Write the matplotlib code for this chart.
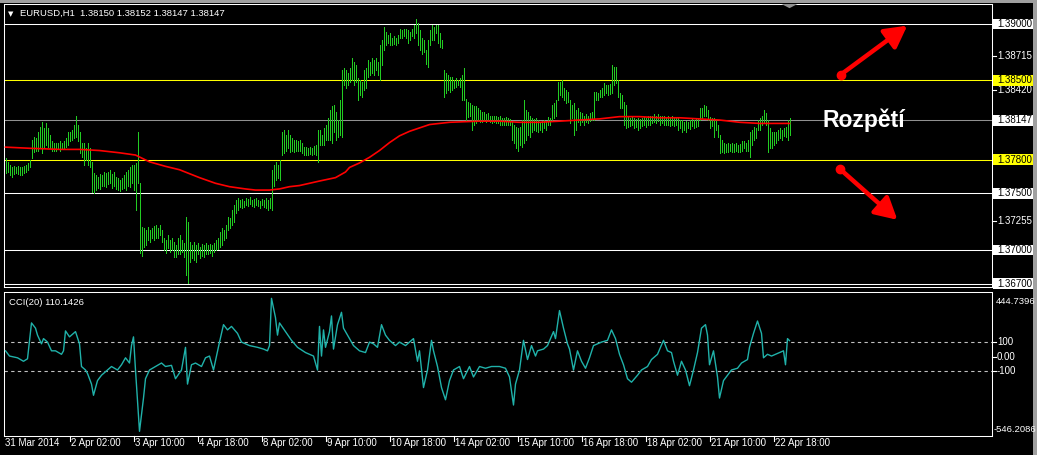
import numpy as np
import matplotlib
matplotlib.use("Agg")
import matplotlib.pyplot as plt
from matplotlib import transforms
from matplotlib.patches import Rectangle, FancyArrowPatch, Polygon

plt.rcParams['font.family'] = ['Liberation Sans', 'DejaVu Sans']

# ---------------- data ----------------
bar_high = [
1.3781,1.3778,1.3775,1.3773,1.3774,1.3773,1.3774,1.3773,1.3773,1.3774,1.3775,1.3777,1.3780,1.3797,1.3800,1.3799,1.3804,1.3809,1.3813,1.3808,
1.3812,1.3808,1.3802,1.3796,1.3795,1.3795,1.3795,1.3796,1.3795,1.3796,1.3799,1.3804,1.3804,1.3806,1.3811,1.3819,1.3811,1.3804,1.3795,1.3795,
1.3790,1.3795,1.3790,1.3778,1.3768,1.3766,1.3765,1.3767,1.3766,1.3769,1.3768,1.3769,1.3771,1.3767,1.3769,1.3765,1.3764,1.3762,1.3764,1.3766,
1.3769,1.3771,1.3773,1.3775,1.3775,1.3777,1.3804,1.3759,1.3720,1.3719,1.3718,1.3720,1.3718,1.3719,1.3721,1.3722,1.3719,1.3722,1.3718,1.3711,
1.3709,1.3713,1.3709,1.3711,1.3707,1.3704,1.3711,1.3713,1.3709,1.3706,1.3729,1.3725,1.3707,1.3704,1.3707,1.3704,1.3706,1.3703,1.3705,1.3704,
1.3706,1.3704,1.3705,1.3704,1.3706,1.3709,1.3711,1.3716,1.3719,1.3718,1.3722,1.3729,1.3728,1.3735,1.3740,1.3744,1.3746,1.3744,1.3745,1.3743,
1.3746,1.3745,1.3747,1.3744,1.3745,1.3746,1.3744,1.3743,1.3745,1.3744,1.3746,1.3744,1.3746,1.3771,1.3775,1.3778,1.3775,1.3780,1.3804,1.3806,
1.3802,1.3806,1.3802,1.3799,1.3797,1.3797,1.3796,1.3797,1.3795,1.3791,1.3791,1.3790,1.3791,1.3790,1.3792,1.3793,1.3806,1.3806,1.3802,1.3808,
1.3811,1.3817,1.3824,1.3827,1.3828,1.3822,1.3815,1.3833,1.3859,1.3861,1.3859,1.3857,1.3861,1.3870,1.3866,1.3864,1.3852,1.3850,1.3849,1.3859,
1.3861,1.3868,1.3866,1.3870,1.3868,1.3870,1.3866,1.3881,1.3886,1.3897,1.3893,1.3890,1.3892,1.3888,1.3889,1.3888,1.3890,1.3896,1.3895,1.3896,
1.3896,1.3895,1.3893,1.3896,1.3899,1.3904,1.3901,1.3895,1.3888,1.3886,1.3877,1.3886,1.3895,1.3899,1.3897,1.3899,1.3899,1.3892,1.3886,1.3859,
1.3857,1.3855,1.3853,1.3853,1.3850,1.3852,1.3850,1.3852,1.3855,1.3861,1.3834,1.3831,1.3830,1.3828,1.3827,1.3827,1.3826,1.3824,1.3822,1.3822,
1.3820,1.3821,1.3819,1.3819,1.3819,1.3819,1.3818,1.3819,1.3817,1.3817,1.3818,1.3817,1.3816,1.3813,1.3811,1.3809,1.3808,1.3809,1.3815,1.3833,
1.3824,1.3822,1.3819,1.3817,1.3816,1.3817,1.3815,1.3813,1.3814,1.3815,1.3813,1.3818,1.3817,1.3828,1.3830,1.3833,1.3849,1.3849,1.3850,1.3843,
1.3842,1.3840,1.3833,1.3828,1.3830,1.3824,1.3826,1.3822,1.3821,1.3819,1.3820,1.3819,1.3821,1.3822,1.3840,1.3840,1.3839,1.3842,1.3843,1.3848,
1.3846,1.3846,1.3847,1.3864,1.3862,1.3862,1.3850,1.3839,1.3837,1.3831,1.3828,1.3818,1.3817,1.3818,1.3817,1.3816,1.3817,1.3816,1.3817,1.3818,
1.3817,1.3819,1.3819,1.3819,1.3820,1.3819,1.3820,1.3819,1.3819,1.3819,1.3818,1.3819,1.3818,1.3819,1.3817,1.3818,1.3817,1.3815,1.3815,1.3813,
1.3814,1.3813,1.3815,1.3816,1.3815,1.3816,1.3817,1.3826,1.3826,1.3828,1.3827,1.3824,1.3818,1.3817,1.3817,1.3815,1.3811,1.3802,1.3797,1.3795,
1.3794,1.3795,1.3794,1.3795,1.3794,1.3795,1.3793,1.3794,1.3796,1.3796,1.3795,1.3797,1.3804,1.3806,1.3809,1.3808,1.3815,1.3817,1.3819,1.3824,
1.3821,1.3815,1.3808,1.3804,1.3804,1.3804,1.3806,1.3808,1.3806,1.3808,1.3809,1.3815,1.3817]

bar_low = [
1.3768,1.3769,1.3766,1.3765,1.3767,1.3768,1.3767,1.3766,1.3766,1.3768,1.3769,1.3771,1.3773,1.3781,1.3787,1.3788,1.3788,1.3790,1.3786,1.3790,
1.3793,1.3791,1.3790,1.3788,1.3788,1.3788,1.3789,1.3788,1.3790,1.3789,1.3791,1.3793,1.3796,1.3797,1.3799,1.3800,1.3796,1.3786,1.3782,1.3775,
1.3780,1.3775,1.3773,1.3751,1.3750,1.3753,1.3755,1.3754,1.3757,1.3757,1.3756,1.3758,1.3759,1.3755,1.3757,1.3754,1.3753,1.3752,1.3754,1.3755,
1.3753,1.3757,1.3756,1.3759,1.3753,1.3735,1.3759,1.3697,1.3695,1.3703,1.3704,1.3709,1.3707,1.3711,1.3709,1.3711,1.3711,1.3713,1.3707,1.3700,
1.3697,1.3702,1.3698,1.3700,1.3694,1.3694,1.3696,1.3696,1.3698,1.3694,1.3678,1.3671,1.3689,1.3693,1.3691,1.3689,1.3696,1.3693,1.3695,1.3694,
1.3696,1.3696,1.3697,1.3695,1.3698,1.3700,1.3701,1.3703,1.3704,1.3709,1.3711,1.3718,1.3719,1.3722,1.3725,1.3733,1.3735,1.3738,1.3737,1.3738,
1.3740,1.3739,1.3741,1.3739,1.3738,1.3740,1.3739,1.3737,1.3740,1.3738,1.3737,1.3735,1.3737,1.3735,1.3757,1.3762,1.3764,1.3762,1.3784,1.3786,
1.3788,1.3790,1.3787,1.3788,1.3787,1.3788,1.3788,1.3788,1.3786,1.3784,1.3784,1.3784,1.3785,1.3784,1.3785,1.3784,1.3778,1.3793,1.3793,1.3793,
1.3797,1.3797,1.3797,1.3795,1.3804,1.3797,1.3800,1.3802,1.3800,1.3846,1.3843,1.3846,1.3849,1.3850,1.3846,1.3849,1.3833,1.3837,1.3835,1.3842,
1.3843,1.3853,1.3855,1.3857,1.3855,1.3859,1.3855,1.3850,1.3864,1.3877,1.3881,1.3883,1.3881,1.3881,1.3882,1.3881,1.3883,1.3888,1.3888,1.3889,
1.3888,1.3883,1.3886,1.3889,1.3888,1.3892,1.3881,1.3877,1.3873,1.3875,1.3865,1.3862,1.3881,1.3886,1.3886,1.3892,1.3883,1.3880,1.3879,1.3835,
1.3839,1.3842,1.3840,1.3842,1.3843,1.3844,1.3846,1.3844,1.3833,1.3833,1.3815,1.3818,1.3819,1.3806,1.3811,1.3812,1.3815,1.3813,1.3813,1.3815,
1.3813,1.3814,1.3813,1.3812,1.3813,1.3812,1.3812,1.3811,1.3811,1.3811,1.3811,1.3811,1.3811,1.3797,1.3795,1.3790,1.3788,1.3793,1.3791,1.3795,
1.3797,1.3802,1.3800,1.3804,1.3806,1.3805,1.3804,1.3806,1.3804,1.3808,1.3806,1.3811,1.3811,1.3815,1.3817,1.3819,1.3833,1.3837,1.3835,1.3833,
1.3830,1.3831,1.3812,1.3817,1.3802,1.3806,1.3813,1.3811,1.3813,1.3811,1.3813,1.3812,1.3814,1.3815,1.3815,1.3833,1.3833,1.3835,1.3835,1.3837,
1.3839,1.3837,1.3838,1.3839,1.3846,1.3848,1.3835,1.3826,1.3826,1.3811,1.3808,1.3809,1.3810,1.3811,1.3808,1.3809,1.3806,1.3808,1.3810,1.3811,
1.3809,1.3811,1.3811,1.3812,1.3813,1.3812,1.3814,1.3811,1.3812,1.3811,1.3811,1.3811,1.3810,1.3811,1.3810,1.3811,1.3806,1.3808,1.3804,1.3806,
1.3804,1.3808,1.3807,1.3810,1.3808,1.3809,1.3810,1.3815,1.3817,1.3819,1.3819,1.3815,1.3808,1.3810,1.3800,1.3806,1.3800,1.3786,1.3787,1.3786,
1.3787,1.3787,1.3788,1.3787,1.3787,1.3788,1.3787,1.3787,1.3788,1.3790,1.3788,1.3788,1.3782,1.3793,1.3797,1.3799,1.3806,1.3806,1.3811,1.3812,
1.3811,1.3787,1.3790,1.3790,1.3793,1.3795,1.3797,1.3799,1.3797,1.3801,1.3800,1.3797,1.3802]

ma_bar = [0, 12, 27, 37, 47, 57, 65, 72, 80, 87, 97, 105, 112, 120, 125, 132, 137, 142, 147, 152, 157, 165,
          170, 172, 177, 182, 187, 192, 197, 202, 207, 212, 217, 222, 237, 247, 257, 267, 277, 287, 297, 307,
          317, 327, 337, 347, 357, 367, 377, 392]
ma_value = [1.3791, 1.3790, 1.3789, 1.3789, 1.3788, 1.3786, 1.3784, 1.3778, 1.3774, 1.3771, 1.3764, 1.3759,
            1.3756, 1.3754, 1.3753, 1.3753, 1.3754, 1.3756, 1.3757, 1.3759, 1.3761, 1.3764, 1.3769, 1.3773,
            1.3777, 1.3782, 1.3788, 1.3795, 1.3801, 1.3805, 1.3808, 1.3811, 1.3812, 1.3813, 1.3814, 1.3814,
            1.3813, 1.3813, 1.3814, 1.3815, 1.3816, 1.3818, 1.3818, 1.3817, 1.3817, 1.3816, 1.3815, 1.3813,
            1.3812, 1.3812]

cci_bar = [0, 2, 6, 9, 11, 13, 15, 16, 18, 19,
           21, 23, 25, 28, 29, 30, 32, 34, 35, 37,
           38, 40, 41, 43, 44, 46, 48, 51, 53, 56,
           58, 60, 62, 63, 64, 65, 67, 69, 70, 72,
           75, 78, 80, 83, 85, 88, 90, 91, 93, 95,
           98, 100, 102, 104, 107, 109, 111, 113, 116, 118,
           122, 126, 129, 131, 132, 133, 135, 136, 137, 140,
           143, 146, 150, 154, 155, 156, 157, 158, 159, 160,
           162, 163, 164, 166, 168, 169, 172, 174, 177, 180,
           182, 184, 186, 188, 190, 192, 195, 197, 200, 202,
           204, 206, 207, 209, 211, 213, 214, 216, 218, 220,
           222, 224, 227, 229, 232, 234, 237, 240, 243, 247,
           250, 252, 254, 255, 257, 259, 261, 263, 265, 266,
           269, 271, 274, 275, 277, 279, 281, 282, 284, 286,
           288, 290, 292, 294, 296, 298, 301, 303, 305, 307,
           309, 311, 313, 316, 318, 321, 323, 326, 329, 331,
           333, 334, 336, 338, 340, 342, 344, 346, 348, 350,
           351, 352, 354, 356, 357, 359, 361, 363, 366, 368,
           371, 372, 374, 376, 378, 379, 381, 383, 385, 387,
           389, 390, 391, 392]
cci_value = [40, 4, -8, -32, -15, 232, 196, 148, 88, 124,
             100, 40, 40, 16, 40, 177, 136, 160, 172, 88,
             -68, -92, -116, -189, -266, -165, -128, -92, -68, -92,
             -56, -8, -44, 76, 136, -92, -514, -285, -152, -92,
             -68, -44, -68, -60, -152, -92, 64, -189, -56, -44,
             -68, -8, 4, -92, 100, 220, 184, 208, 160, 100,
             76, 64, 52, 40, 76, 401, 268, 148, 232, 172,
             112, 64, 28, 4, -44, -92, 208, 4, 184, 64,
             172, 280, 52, 220, 305, 196, 124, 76, 40, 28,
             100, 88, 64, 220, 148, 112, 76, 100, 76, 100,
             124, -32, 40, -213, -92, 112, 40, -68, -213, -297,
             -165, -92, -68, -152, -68, -140, -68, -80, -68, -68,
             -80, -140, -333, -189, -92, 112, -20, 76, 4, 40,
             52, 76, 172, 124, 317, 196, 88, 52, -92, 40,
             -32, -80, -8, 76, 88, 100, 112, 184, 124, 16,
             -56, -152, -176, -128, -92, -68, -20, 16, 112, 40,
             28, -32, -128, -32, -92, -200, -92, 28, 196, 220,
             148, -56, 40, -140, -285, -165, -128, -92, -80, -44,
             -20, 64, 160, 245, 160, -8, 16, 4, 16, 28,
             40, -56, 124, 110.1426]

hline_levels = [1.39000, 1.38500, 1.38147, 1.37800, 1.37500, 1.37000, 1.36700]
hline_colors = ['white', '#ffff00', '#909090', '#ffff00', 'white', 'white', 'white']
grid_labels = [1.38715, 1.38420, 1.37255]
cci_levels = [100, -100]
cci_min, cci_max = -546.2086, 444.7396

time_tick_bar = [0, 32, 64, 96, 128, 160, 192, 224, 256, 288, 320, 352, 384]
time_tick_label = ["31 Mar 2014", "2 Apr 02:00", "3 Apr 10:00", "4 Apr 18:00", "8 Apr 02:00",
                   "9 Apr 10:00", "10 Apr 18:00", "14 Apr 02:00", "15 Apr 10:00", "16 Apr 18:00",
                   "18 Apr 02:00", "21 Apr 10:00", "22 Apr 18:00"]

header = "EURUSD,H1  1.38150 1.38152 1.38147 1.38147"
cci_header = "CCI(20) 110.1426"
note = "Rozpětí"

# ---------------- layout ----------------
W, H = 1037, 455
fig = plt.figure(figsize=(W / 100, H / 100), dpi=100, facecolor='black')

def fy(py):
    return 1 - py / H

def fx(px):
    return px / W

ax = fig.add_axes([fx(4), fy(287), fx(992) - fx(4), fy(4) - fy(287)], facecolor='black')
axc = fig.add_axes([fx(4), fy(436), fx(992) - fx(4), fy(292) - fy(436)], facecolor='black', sharex=ax)

for a in (ax, axc):
    for s in a.spines.values():
        s.set_color('white')
        s.set_linewidth(0.75)
    a.set_xticks([])
    a.set_yticks([])

xlo, xhi = -0.75, 493.25
ax.set_xlim(xlo, xhi)
ax.set_ylim(1.36672, 1.39177)
axc.set_ylim(cci_min, cci_max)

n = min(len(bar_high), len(bar_low))
idx = np.arange(n)
green = '#22cc22'

# horizontal levels
for lvl, col in zip(hline_levels, hline_colors):
    ax.axhline(lvl, color=col, lw=0.75, zorder=1)

ax.vlines(idx, bar_low[:n], bar_high[:n], color=green, lw=0.72, zorder=3, antialiased=False)
ax.plot(ma_bar, ma_value, color='#ff0000', lw=1.2, zorder=4)

# header texts
ax.text(0.004, 0.975, "\u25BC", transform=ax.transAxes, color='white', fontsize=5,
        va='top', ha='left', family='DejaVu Sans')
ax.text(0.0165, 0.982, header, transform=ax.transAxes, color='white', fontsize=6.8, va='top', ha='left')

# chart-shift marker
ax.add_patch(Polygon([[388, 1.39177], [396, 1.39177], [392, 1.39140]], closed=True,
                     facecolor='#909090', edgecolor='none', zorder=6, clip_on=False))

# right price labels
bt = transforms.blended_transform_factory(fig.transFigure, ax.transData)
for g in grid_labels:
    fig.add_artist(plt.Line2D([fx(992), fx(996)], [g, g], transform=bt, color='white', lw=0.8))
    fig.text(fx(997), g, f"{g:.5f}", transform=bt, color='white', fontsize=7, va='center', ha='left', zorder=2)
for lvl, col in zip(hline_levels, hline_colors):
    boxcol = '#ffff00' if col == '#ffff00' else 'white'
    fig.add_artist(Rectangle((fx(993), lvl - 0.00048), fx(1033) - fx(993), 0.00096,
                             transform=bt, facecolor=boxcol, edgecolor='none', zorder=5))
    fig.text(fx(997), lvl, f"{lvl:.5f}", transform=bt, color='black', fontsize=7,
             va='center', ha='left', zorder=6)

# note and arrows
ax.text(429, 1.3815, note, color='white', fontsize=16.5, fontweight='bold', va='center', ha='center', zorder=6)
arrow_kw = dict(arrowstyle='-|>,head_length=1.1,head_width=0.6', color='#ff0000', lw=3.2,
                mutation_scale=12, zorder=6)
ax.add_patch(FancyArrowPatch((417.5, 1.3855), (452, 1.3900), **arrow_kw))
ax.add_patch(FancyArrowPatch((417, 1.3772), (447, 1.3725), **arrow_kw))
ax.plot([417.5, 417], [1.3855, 1.3772], 'o', color='#ff0000', ms=6, zorder=7, ls='none')

# CCI panel
for lv in cci_levels:
    axc.axhline(lv, color='#c0c0c0', lw=0.8, ls=(0, (3, 3)), zorder=1)
axc.plot(cci_bar, cci_value, color='#20b2aa', lw=1.0, zorder=3)
axc.text(0.005, 0.955, cci_header, transform=axc.transAxes, color='white', fontsize=6.8, va='top', ha='left')

bc = transforms.blended_transform_factory(fig.transFigure, axc.transData)
for v, s in [(100, "100"), (0, "0.00"), (-100, "-100")]:
    fig.add_artist(plt.Line2D([fx(992), fx(996)], [v, v], transform=bc, color='white', lw=0.8))
    fig.text(fx(997), v, s, transform=bc, color='white', fontsize=7, va='center', ha='left')
fig.text(fx(996), fy(302), f"{cci_max:.4f}", color='white', fontsize=6.8, va='center', ha='left')
fig.text(fx(994), fy(429), f"{cci_min:.4f}", color='white', fontsize=6.8, va='center', ha='left')

# time axis
bx = transforms.blended_transform_factory(axc.transData, fig.transFigure)
for b, lab in zip(time_tick_bar, time_tick_label):
    if b > 0:
        fig.add_artist(plt.Line2D([b, b], [fy(436), fy(441)], transform=bx, color='white', lw=0.8))
    fig.text(b + 0.8 if b > 0 else xlo + 0.5, fy(443.5), lab, transform=bx, color='white',
             fontsize=7, va='center', ha='left')

# window borders
fig.add_artist(Rectangle((0, fy(3)), 1, fy(0) - fy(3), transform=fig.transFigure,
                         facecolor='#a0a0a0', edgecolor='none'))
fig.add_artist(Rectangle((fx(1033), 0), 1 - fx(1033), 1, transform=fig.transFigure,
                         facecolor='#a0a0a0', edgecolor='none'))

fig.savefig("out.png", dpi=100, facecolor='black')
